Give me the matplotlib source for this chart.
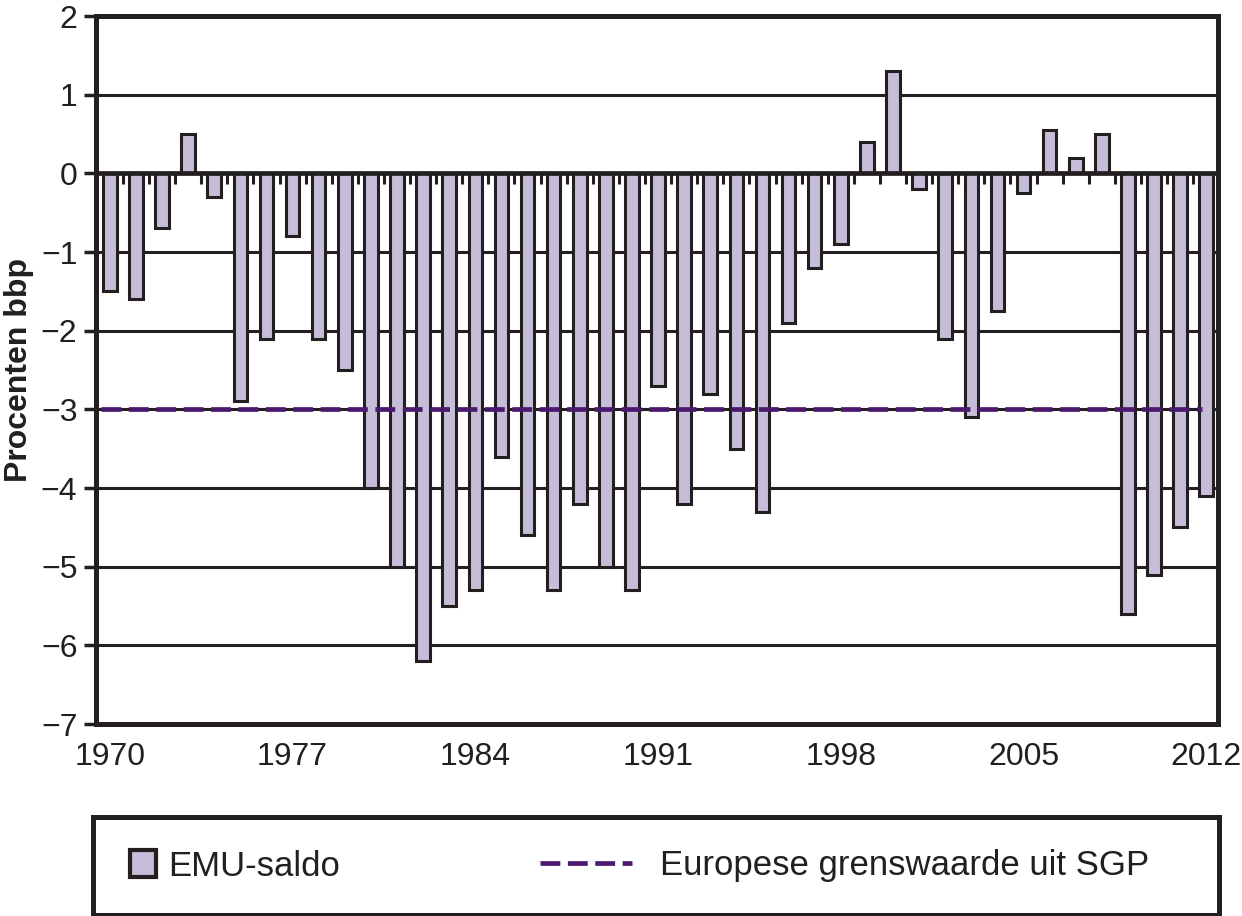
import matplotlib.pyplot as plt
from matplotlib.patches import Patch
from matplotlib.lines import Line2D

plt.rcParams['font.family'] = ['Liberation Sans', 'DejaVu Sans']

years = list(range(1970, 2013))
emu_saldo = [-1.5, -1.6, -0.7, 0.5, -0.3, -2.9, -2.1, -0.8, -2.1, -2.5,
             -4.0, -5.0, -6.2, -5.5, -5.3, -3.6, -4.6, -5.3, -4.2, -5.0,
             -5.3, -2.7, -4.2, -2.8, -3.5, -4.3, -1.9, -1.2, -0.9, 0.4,
             1.3, -0.2, -2.1, -3.1, -1.75, -0.25, 0.55, 0.2, 0.5, -5.6,
             -5.1, -4.5, -4.1]
grens = -3.0
label_years = [1970, 1977, 1984, 1991, 1998, 2005, 2012]

dark = '#231f20'
bar_fill = '#c6bed8'
purple = '#4b1a6e'

W, H = 1242, 916
fig = plt.figure(figsize=(W / 100, H / 100), dpi=100)
ax = fig.add_axes([95.5 / W, (H - 724) / H, (1218 - 95.5) / W, (724 - 16) / H])

x = list(range(len(years)))
ax.bar(x, emu_saldo, width=0.52, color=bar_fill, edgecolor=dark, linewidth=2.2, zorder=3)

# gridlines behind bars
for v in range(-7, 3):
    if v != 0:
        ax.axhline(v, color=dark, lw=2.2, zorder=1)
ax.axhline(0, color=dark, lw=3.4, zorder=4)
# small ticks on zero line between categories
ax.vlines([i + 0.5 for i in x[:-1]], -0.13, 0, color=dark, lw=2.2, zorder=4)

ax.plot([-0.35, len(years) - 1.15], [grens, grens], color=purple, lw=3.4,
        dashes=(4.2, 1.6), zorder=5)

ax.set_xlim(-0.55, len(years) - 0.55)
ax.set_ylim(-7, 2)
ax.set_yticks(range(-7, 3))
ax.set_xticks([years.index(y) for y in label_years])
ax.set_xticklabels([str(y) for y in label_years])
ax.tick_params(axis='x', length=0, pad=13, labelsize=23, colors=dark)
ax.tick_params(axis='y', length=9, width=2.5, pad=4, labelsize=23, colors=dark)
for s in ax.spines.values():
    s.set_linewidth(3.6)
    s.set_color(dark)
fig.text(19 / W, 1 - 370 / H, 'Procenten bbp', rotation=90, ha='center', va='center',
         fontsize=23, fontweight='bold', color=dark)

# legend box
lax = fig.add_axes([93 / W, (H - 915) / H, (1219 - 93) / W, (915 - 817) / H])
lax.set_xticks([])
lax.set_yticks([])
for s in lax.spines.values():
    s.set_linewidth(3.6)
    s.set_color(dark)

h1 = Patch(facecolor=bar_fill, edgecolor=dark, linewidth=3)
leg1 = lax.legend([h1], ['EMU-saldo'], loc='center left', bbox_to_anchor=(0.033, 0.5),
                  frameon=False, fontsize=25, handlelength=0.75, handleheight=0.8,
                  handletextpad=0.35, borderpad=0, borderaxespad=0, labelcolor=dark)
lax.add_artist(leg1)
h2 = Line2D([], [], color=purple, lw=3.4, dashes=(4.2, 1.6))
lax.legend([h2], ['Europese grenswaarde uit SGP'], loc='center left',
           bbox_to_anchor=(0.397, 0.5), frameon=False, fontsize=25,
           handlelength=2.65, handletextpad=0.8, borderpad=0, borderaxespad=0,
           labelcolor=dark)

fig.savefig('out.png', dpi=100)
